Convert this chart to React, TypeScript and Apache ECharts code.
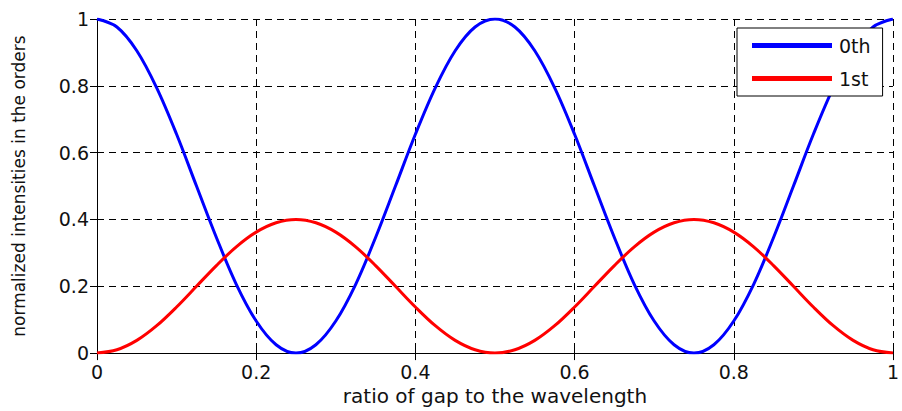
import React, { useEffect, useRef } from "react";
import * as echarts from "echarts";

const xValues = [
  0, 0.025, 0.05, 0.075, 0.1, 0.125, 0.15, 0.175, 0.2, 0.225, 0.25, 0.275, 0.3, 0.325, 0.35, 0.375, 0.4, 0.425, 0.45,
  0.475, 0.5, 0.525, 0.55, 0.575, 0.6, 0.625, 0.65, 0.675, 0.7, 0.725, 0.75, 0.775, 0.8, 0.825, 0.85, 0.875, 0.9, 0.925,
  0.95, 0.975, 1,
];

const zerothOrder = [
  1, 0.976, 0.905, 0.794, 0.655, 0.5, 0.346, 0.206, 0.096, 0.025, 0, 0.025, 0.096, 0.206, 0.346, 0.5, 0.655, 0.794,
  0.905, 0.976, 1, 0.976, 0.905, 0.794, 0.655, 0.5, 0.346, 0.206, 0.096, 0.025, 0, 0.025, 0.096, 0.206, 0.346, 0.5,
  0.655, 0.794, 0.905, 0.976, 1,
];

const firstOrder = [
  0, 0.01, 0.038, 0.082, 0.138, 0.2, 0.262, 0.318, 0.362, 0.39, 0.4, 0.39, 0.362, 0.318, 0.262, 0.2, 0.138, 0.082,
  0.038, 0.01, 0, 0.01, 0.038, 0.082, 0.138, 0.2, 0.262, 0.318, 0.362, 0.39, 0.4, 0.39, 0.362, 0.318, 0.262, 0.2, 0.138,
  0.082, 0.038, 0.01, 0,
];

const seriesNames = ["0th", "1st"];
const xTitle = "ratio of gap to the wavelength";
const yTitle = "normalized intensities in the orders";

export default function App() {
  const ref = useRef<HTMLDivElement>(null);

  useEffect(() => {
    if (!ref.current) return;
    const chart = echarts.init(ref.current, null, { renderer: "svg" });
    const font = "DejaVu Sans";
    const axisCommon = {
      type: "value" as const,
      min: 0,
      max: 1,
      interval: 0.2,
      axisLine: { show: true, lineStyle: { color: "#000", width: 1 } },
      axisTick: { show: true, inside: true, length: 7, lineStyle: { color: "#000" } },
    };
    chart.setOption({
      animation: false,
      backgroundColor: "#fff",
      grid: { left: 97, top: 19, right: -1, bottom: 55, containLabel: false },
      legend: {
        orient: "vertical",
        left: 737,
        top: 28,
        padding: [8, 12, 8, 15],
        itemGap: 14,
        itemWidth: 80,
        itemHeight: 5,
        icon: "rect",
        backgroundColor: "#fff",
        borderColor: "#000",
        borderWidth: 1,
        textStyle: { fontFamily: font, fontSize: 19, color: "#111", padding: [0, 0, 0, 2] },
        data: seriesNames,
      },
      xAxis: [
        {
          ...axisCommon,
          position: "bottom",
          name: xTitle,
          nameLocation: "middle",
          nameGap: 32,
          nameTextStyle: { fontFamily: font, fontSize: 20, color: "#111" },
          axisLabel: { fontFamily: font, fontSize: 19, color: "#111", margin: 9 },
          splitLine: { show: true, lineStyle: { color: "#000", type: [7, 5], width: 1 } },
        },
        {
          ...axisCommon,
          position: "top",
          axisLabel: { show: false },
          splitLine: { show: false },
        },
      ],
      yAxis: [
        {
          ...axisCommon,
          position: "left",
          name: yTitle,
          nameLocation: "middle",
          nameGap: 70,
          nameTextStyle: { fontFamily: font, fontSize: 17, color: "#111" },
          axisLabel: { fontFamily: font, fontSize: 19, color: "#111", margin: 8 },
          splitLine: { show: true, lineStyle: { color: "#000", type: [7, 5], width: 1 } },
        },
        {
          ...axisCommon,
          position: "right",
          axisLabel: { show: false },
          splitLine: { show: false },
        },
      ],
      series: [
        {
          name: seriesNames[0],
          type: "line",
          xAxisIndex: 0,
          yAxisIndex: 0,
          data: xValues.map((x, i) => [x, zerothOrder[i]]),
          smooth: 0.35,
          showSymbol: false,
          lineStyle: { color: "#0000ff", width: 3 },
          itemStyle: { color: "#0000ff" },
        },
        {
          name: seriesNames[1],
          type: "line",
          xAxisIndex: 0,
          yAxisIndex: 0,
          data: xValues.map((x, i) => [x, firstOrder[i]]),
          smooth: 0.35,
          showSymbol: false,
          lineStyle: { color: "#ff0000", width: 3 },
          itemStyle: { color: "#ff0000" },
        },
      ],
    });
    return () => chart.dispose();
  }, []);

  return (
    <div
      ref={ref}
      style={{ position: "absolute", left: 0, top: 0, width: 902, height: 411 }}
    />
  );
}
